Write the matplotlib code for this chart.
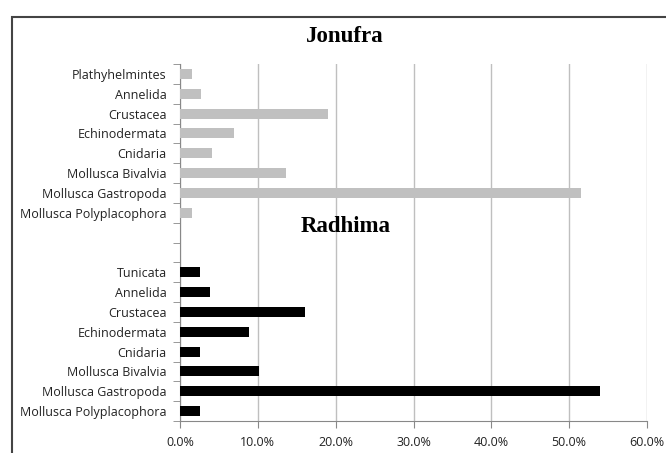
import matplotlib
matplotlib.use("Agg")
import matplotlib.pyplot as plt
from matplotlib.patches import Rectangle
from matplotlib.ticker import FixedLocator, FuncFormatter

# Data (top-to-bottom order as shown)
jonufra_cats = ["Plathyhelmintes", "Annelida", "Crustacea", "Echinodermata", "Cnidaria",
                "Mollusca Bivalvia", "Mollusca Gastropoda", "Mollusca Polyplacophora"]
jonufra_vals = [1.5, 2.7, 19.0, 6.9, 4.1, 13.6, 51.5, 1.5]
radhima_cats = ["Tunicata", "Annelida", "Crustacea", "Echinodermata", "Cnidaria",
                "Mollusca Bivalvia", "Mollusca Gastropoda", "Mollusca Polyplacophora"]
radhima_vals = [2.6, 3.9, 16.1, 8.9, 2.6, 10.2, 53.9, 2.6]
x_ticks = [0, 10, 20, 30, 40, 50, 60]

W, H = 666, 453
fig = plt.figure(figsize=(W / 100, H / 100), dpi=100)
fig.patch.set_facecolor("white")

# outer chart border
fig.add_artist(Rectangle((12 / W, -0.1), 1.2, 1 - 17 / H + 0.1, transform=fig.transFigure,
                         fill=False, edgecolor="#444444", linewidth=1.5))

left, right, top, bottom = 180, 647, 64, 421
ax = fig.add_axes([left / W, 1 - bottom / H, (right - left) / W, (bottom - top) / H])

n_j = len(jonufra_cats)
n_r = len(radhima_cats)
gap = 2
total = n_j + gap + n_r
pos_j = list(range(n_j))
pos_r = [n_j + gap + i for i in range(n_r)]

ax.barh(pos_j, jonufra_vals, height=0.5, color="#c0c0c0", zorder=3)
ax.barh(pos_r, radhima_vals, height=0.5, color="black", zorder=3)

ax.set_ylim(total - 0.5, -0.5)
ax.set_xlim(0, 60)

labels = jonufra_cats + [""] * gap + radhima_cats
ax.set_yticks(range(total))
ax.set_yticklabels(labels, fontsize=9, family="Open Sans", color="#222222")
ax.tick_params(axis="y", which="major", length=0, pad=9.5)
ax.yaxis.set_minor_locator(FixedLocator([i - 0.5 for i in range(total + 1)]))
ax.tick_params(axis="y", which="minor", length=5, color="#888888", direction="out")

ax.set_xticks(x_ticks)
ax.xaxis.set_major_formatter(FuncFormatter(lambda v, p: f"{v:.1f}%"))
ax.tick_params(axis="x", length=5, color="#888888", direction="out", labelsize=9, pad=6)
for t in ax.get_xticklabels():
    t.set_family("Open Sans")
    t.set_color("#222222")

ax.grid(axis="x", color="#bfbfbf", linewidth=1, zorder=0)
ax.set_axisbelow(True)
for s in ["top", "right"]:
    ax.spines[s].set_visible(False)
ax.spines["left"].set_color("#888888")
ax.spines["bottom"].set_color("#888888")

fig.text(345 / W, 1 - 36 / H, "Jonufra", ha="center", va="center",
         fontsize=16.5, fontweight="bold", family="Liberation Serif")
fig.text(346 / W, 1 - 226 / H, "Radhima", ha="center", va="center",
         fontsize=16.5, fontweight="bold", family="Liberation Serif")

fig.savefig("out.png", dpi=100)
